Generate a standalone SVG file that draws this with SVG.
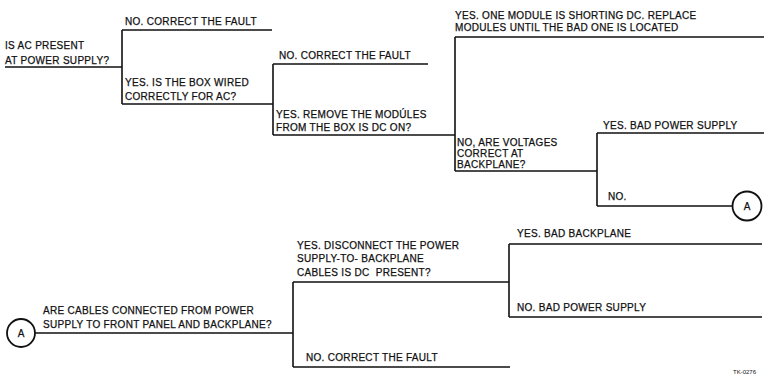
<svg xmlns="http://www.w3.org/2000/svg" width="764" height="376" viewBox="0 0 764 376">
<style>
text{font-family:"Liberation Sans",Arial,sans-serif;font-size:10px;fill:#111;letter-spacing:0.3px;stroke:#111;stroke-width:0.25}
.ln{stroke:#111;stroke-width:1.6;fill:none}
.c{stroke:#111;stroke-width:1.8;fill:#fff}
.cl{font-size:10px;text-anchor:middle;letter-spacing:0}
.tk{font-size:6px;letter-spacing:0;stroke:none}
</style>
<rect width="764" height="376" fill="#fff"/>
<g id="connectors">
<path class="ln" d="M5 67H122M122 30V104M122 30H272M122 104H273"/>
<path class="ln" d="M273 64V135M273 64H428M273 135H455"/>
<path class="ln" d="M455 37V171M455 37H764M455 171H597"/>
<path class="ln" d="M597 133V206M597 133H764M597 206H732"/>
<path class="ln" d="M35 333H293M293 282V367M293 282H509M293 367H510"/>
<path class="ln" d="M509 244V317M509 244H762M509 317H762"/>
</g>
<g id="n-ac-present"><text x="5" y="48.5">IS AC PRESENT</text><text x="5" y="63.5">AT POWER SUPPLY?</text></g>
<g id="n-fault1"><text x="125" y="24.5">NO. CORRECT THE FAULT</text></g>
<g id="n-wired"><text x="125" y="85.5">YES. IS THE BOX WIRED</text><text x="125" y="100">CORRECTLY FOR AC?</text></g>
<g id="n-fault2"><text x="279" y="58.5">NO. CORRECT THE FAULT</text></g>
<g id="n-remove"><text x="276" y="118">YES. REMOVE THE MODÚLES</text><text x="276" y="130.5">FROM THE BOX IS DC ON?</text></g>
<g id="n-shorting"><text x="455" y="18.5">YES. ONE MODULE IS SHORTING DC. REPLACE</text><text x="455" y="30.5">MODULES UNTIL THE BAD ONE IS LOCATED</text></g>
<g id="n-voltages"><text x="457" y="146">NO, ARE VOLTAGES</text><text x="457" y="157">CORRECT AT</text><text x="457" y="168">BACKPLANE?</text></g>
<g id="n-badps1"><text x="603" y="128.5">YES. BAD POWER SUPPLY</text></g>
<g id="n-no"><text x="608" y="200">NO.</text></g>
<g id="n-a1"><circle class="c" cx="747" cy="206" r="14.5"/><text class="cl" x="747" y="209.5">A</text></g>
<g id="n-a2"><circle class="c" cx="21" cy="333" r="14"/><text class="cl" x="21" y="336.5">A</text></g>
<g id="n-cables"><text x="43" y="313.5">ARE CABLES CONNECTED FROM POWER</text><text x="43" y="328">SUPPLY TO FRONT PANEL AND BACKPLANE?</text></g>
<g id="n-disconnect"><text x="297" y="248.5">YES. DISCONNECT THE POWER</text><text x="297" y="262">SUPPLY-TO- BACKPLANE</text><text x="297" y="275.5" xml:space="preserve">CABLES IS DC  PRESENT?</text></g>
<g id="n-fault3"><text x="306" y="360.5">NO. CORRECT THE FAULT</text></g>
<g id="n-badbp"><text x="517" y="237">YES. BAD BACKPLANE</text></g>
<g id="n-badps2"><text x="517" y="310.5">NO. BAD POWER SUPPLY</text></g>
<text class="tk" x="733" y="373.5">TK-0276</text>
</svg>
